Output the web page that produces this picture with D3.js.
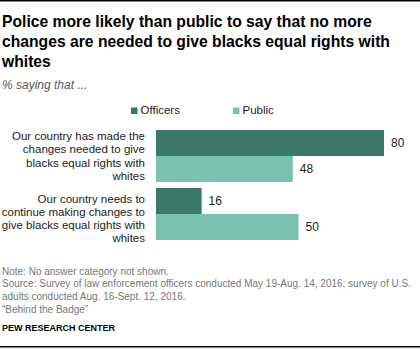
<!DOCTYPE html>
<html lang="en">
<head>
<meta charset="UTF-8">
<title>Police vs public on equal rights</title>
<script src="https://d3js.org/d3.v7.min.js"></script>
<style>
  * { margin: 0; padding: 0; }
  body { background: #fff; }
  text { font-family: "Liberation Sans", Arial, sans-serif; }
</style>
</head>
<body>
<script>
  var categories = [
    ["Our country has made the", "changes needed to give", "blacks equal rights with", "whites"],
    ["Our country needs to", "continue making changes to", "give blacks equal rights with", "whites"]
  ];
  var seriesNames = ["Officers", "Public"];
  var officers = [80, 16];
  var publicVals = [48, 50];
  var colors = ["#3b7867", "#7bc1b0"];

  var width = 420, height = 349;

  var svg = d3.select("body").append("svg")
      .attr("width", width)
      .attr("height", height);

  // rules top and bottom
  svg.append("rect").attr("x", 0).attr("y", 0).attr("width", width).attr("height", 1.5).attr("fill", "#000");
  svg.append("rect").attr("x", 0).attr("y", 346).attr("width", width).attr("height", 1.5).attr("fill", "#000");

  // title
  var title = ["Police more likely than public to say that no more",
               "changes are needed to give blacks equal rights with",
               "whites"];
  svg.append("g").selectAll("text")
    .data(title).enter().append("text")
    .attr("x", 2)
    .attr("y", function(d, i) { return 27 + i * 20; })
    .attr("font-size", 15.7)
    .attr("font-weight", "bold")
    .attr("fill", "#000")
    .text(function(d) { return d; });

  svg.append("text")
    .attr("x", 2).attr("y", 89)
    .attr("font-family", "'DejaVu Serif', serif")
    .attr("font-style", "italic")
    .attr("font-size", 12)
    .attr("fill", "#595959")
    .text("% saying that ...");

  // bars
  var x = d3.scaleLinear().domain([0, 80]).range([156, 384]);
  var y0 = d3.scaleBand().domain([0, 1]).range([130, 240]).paddingInner(0.1035).paddingOuter(0);
  var y1 = d3.scaleBand().domain(seriesNames).range([0, y0.bandwidth()]);
  var labelTop = [10, 14.5];

  var rows = categories.map(function(c, i) {
    return { i: i, vals: [officers[i], publicVals[i]] };
  });

  var groups = svg.selectAll("g.row")
    .data(rows).enter().append("g")
    .attr("class", "row")
    .attr("transform", function(d) { return "translate(0," + y0(d.i) + ")"; });

  groups.selectAll("rect")
    .data(function(d) { return d.vals.map(function(v, k) { return { v: v, s: seriesNames[k], k: k }; }); })
    .enter().append("rect")
    .attr("x", x(0))
    .attr("y", function(d) { return y1(d.s); })
    .attr("width", function(d) { return x(d.v) - x(0); })
    .attr("height", y1.bandwidth())
    .attr("fill", function(d) { return colors[d.k]; });

  groups.selectAll("text.val")
    .data(function(d) { return d.vals.map(function(v, k) { return { v: v, s: seriesNames[k] }; }); })
    .enter().append("text")
    .attr("class", "val")
    .attr("x", function(d) { return x(d.v) + 7; })
    .attr("y", function(d) { return y1(d.s) + y1.bandwidth() / 2 + 4.3; })
    .attr("font-size", 12)
    .attr("fill", "#222")
    .text(function(d) { return d.v; });

  // category labels
  groups.append("text")
    .attr("text-anchor", "end")
    .attr("font-size", 11.5)
    .attr("fill", "#222")
    .selectAll("tspan")
    .data(function(d) { return categories[d.i].map(function(t) { return { t: t, top: labelTop[d.i] }; }); })
    .enter().append("tspan")
    .attr("x", 145)
    .attr("y", function(d, i) { return d.top + i * 13.3; })
    .text(function(d) { return d.t; });

  // legend
  var legendX = [131, 233];
  var legend = svg.selectAll("g.legend")
    .data(seriesNames).enter().append("g")
    .attr("class", "legend")
    .attr("transform", function(d, i) { return "translate(" + legendX[i] + ",107.5)"; });
  legend.append("rect")
    .attr("width", 6.5).attr("height", 6.5)
    .attr("fill", function(d, i) { return colors[i]; });
  legend.append("text")
    .attr("x", 9.5).attr("y", 6.5)
    .attr("font-size", 11.5)
    .attr("fill", "#222")
    .text(function(d) { return d; });

  // notes
  var notes = ["Note: No answer category not shown.",
               "Source: Survey of law enforcement officers conducted May 19-Aug. 14, 2016; survey of U.S.",
               "adults conducted Aug. 16-Sept. 12, 2016.",
               "\u201cBehind the Badge\u201d"];
  svg.append("g").selectAll("text")
    .data(notes).enter().append("text")
    .attr("x", 2)
    .attr("y", function(d, i) { return 274.5 + i * 12.8; })
    .attr("font-size", 10)
    .attr("fill", "#777")
    .text(function(d) { return d; });

  svg.append("text")
    .attr("x", 2).attr("y", 330.5)
    .attr("font-size", 9)
    .attr("font-weight", "bold")
    .attr("fill", "#000")
    .text("PEW RESEARCH CENTER");
</script>
</body>
</html>
